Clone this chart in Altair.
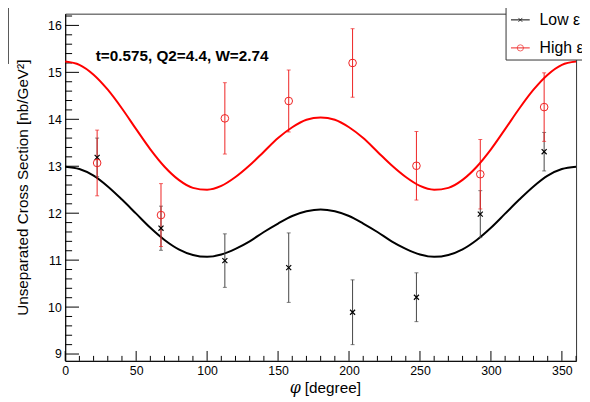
import altair as alt
import pandas as pd

# ---- data ----
phi_curve = list(range(0, 361, 10))
low_fit = [12.99, 12.94, 12.80, 12.57, 12.29, 11.99, 11.69, 11.43, 11.23, 11.11,
           11.07, 11.12, 11.24, 11.40, 11.60, 11.78, 11.94, 12.04, 12.08,
           12.04, 11.94, 11.78, 11.60, 11.40, 11.24, 11.12, 11.07, 11.11,
           11.23, 11.43, 11.69, 11.99, 12.29, 12.57, 12.80, 12.94, 12.99]
high_fit = [15.23, 15.16, 14.95, 14.63, 14.23, 13.79, 13.36, 12.99, 12.71, 12.54,
            12.50, 12.58, 12.77, 13.02, 13.31, 13.60, 13.83, 13.99, 14.04,
            13.99, 13.83, 13.60, 13.31, 13.02, 12.77, 12.58, 12.50, 12.54,
            12.71, 12.99, 13.36, 13.79, 14.23, 14.63, 14.95, 15.16, 15.23]

phi_pts = [22.5, 67.5, 112.5, 157.5, 202.5, 247.5, 292.5, 337.5]
low_val = [13.19, 11.68, 10.99, 10.84, 9.89, 10.21, 11.98, 13.31]
low_err = [0.41, 0.47, 0.57, 0.74, 0.69, 0.52, 0.50, 0.41]
high_val = [13.07, 11.96, 14.02, 14.39, 15.20, 13.01, 12.83, 14.26]
high_err = [0.70, 0.67, 0.76, 0.66, 0.73, 0.73, 0.74, 0.73]

x_major = [0, 50, 100, 150, 200, 250, 300, 350]
x_minor = [v for v in range(10, 361, 10) if v % 50]
y_major = [9, 10, 11, 12, 13, 14, 15, 16]
y_minor = [round(9 + 0.2 * i, 1) for i in range(37) if i % 5]

legend_labels = ["Low ε", "High ε"]
info_text = "t=0.575, Q2=4.4, W=2.74"
y_title = "Unseparated Cross Section [nb/GeV²]"

W, H = 518, 352
xs = alt.Scale(domain=[0, 360], nice=False, zero=False)
ys = alt.Scale(domain=[8.855, 16.25], nice=False, zero=False)
FONT = "Liberation Sans"

x_axis = alt.Axis(
    values=x_major, ticks=False, grid=False, labelFontSize=12.5, labelFont=FONT,
    labelColor="black", labelPadding=4, labelFlush=False, labelOverlap=False,
    domainColor="black", title=None, format="d")
y_axis = alt.Axis(
    values=y_major, ticks=False, grid=False, labelFontSize=12.5, labelFont=FONT,
    labelColor="black", labelPadding=4, labelFlush=False, labelOverlap=False,
    domainColor="black", format="d",
    title=y_title, titleFont=FONT, titleFontSize=15.5, titleFontWeight="normal",
    titleColor="black", titleAngle=270, titleX=-38, titleY=H / 2,
    titleAlign="center", titleBaseline="alphabetic")

df_low = pd.DataFrame({"phi": phi_curve, "val": low_fit})
df_high = pd.DataFrame({"phi": phi_curve, "val": high_fit})
pts = pd.DataFrame({
    "phi": phi_pts,
    "lv": low_val, "llo": [v - e for v, e in zip(low_val, low_err)],
    "lhi": [v + e for v, e in zip(low_val, low_err)],
    "hv": high_val, "hlo": [v - e for v, e in zip(high_val, high_err)],
    "hhi": [v + e for v, e in zip(high_val, high_err)],
})

X = lambda f: alt.X(f, type="quantitative", scale=xs, axis=x_axis)
Y = lambda f: alt.Y(f, type="quantitative", scale=ys, axis=y_axis)

low_line = alt.Chart(df_low).mark_line(color="black", strokeWidth=2, interpolate="monotone").encode(
    x=X("phi"), y=Y("val"))
high_line = alt.Chart(df_high).mark_line(color="#ff0000", strokeWidth=2, interpolate="monotone").encode(
    x=X("phi"), y=Y("val"))

# inward ticks (ROOT style)
tk_ymaj = alt.Chart(pd.DataFrame({"v": y_major})).mark_rule(color="black", strokeWidth=1).encode(
    y=Y("v"), x=alt.value(0), x2=alt.value(14))
tk_ymin = alt.Chart(pd.DataFrame({"v": y_minor})).mark_rule(color="black", strokeWidth=1).encode(
    y=Y("v"), x=alt.value(0), x2=alt.value(7))
tk_xmaj = alt.Chart(pd.DataFrame({"v": x_major})).mark_rule(color="black", strokeWidth=1).encode(
    x=X("v"), y=alt.value(H), y2=alt.value(H - 10))
tk_xmin = alt.Chart(pd.DataFrame({"v": x_minor})).mark_rule(color="black", strokeWidth=1).encode(
    x=X("v"), y=alt.value(H), y2=alt.value(H - 5))

base = alt.Chart(pts)
low_bar = base.mark_rule(color="#444444", strokeWidth=1).encode(x=X("phi"), y=Y("llo"), y2="lhi:Q")
low_cap1 = base.mark_tick(color="#444444", orient="horizontal", size=4, thickness=1).encode(x=X("phi"), y=Y("llo"))
low_cap2 = base.mark_tick(color="#444444", orient="horizontal", size=4, thickness=1).encode(x=X("phi"), y=Y("lhi"))
low_mk = base.mark_point(shape="M-1,-1L1,1M-1,1L1,-1", size=26, color="black", strokeWidth=1.2,
                         filled=False, opacity=1).encode(x=X("phi"), y=Y("lv"))

high_bar = base.mark_rule(color="#ee2222", strokeWidth=1).encode(x=X("phi"), y=Y("hlo"), y2="hhi:Q")
high_cap1 = base.mark_tick(color="#ee2222", orient="horizontal", size=4, thickness=1).encode(x=X("phi"), y=Y("hlo"))
high_cap2 = base.mark_tick(color="#ee2222", orient="horizontal", size=4, thickness=1).encode(x=X("phi"), y=Y("hhi"))
high_mk = base.mark_point(shape="circle", size=60, color="#ee2222", strokeWidth=1,
                          filled=False, opacity=1).encode(x=X("phi"), y=Y("hv"))

info = alt.Chart(pd.DataFrame({"t": [info_text]})).mark_text(
    font=FONT, fontSize=15.5, fontWeight="bold", align="left", baseline="alphabetic", color="black"
).encode(text="t:N", x=alt.value(31), y=alt.value(48))

xt_phi = alt.Chart(pd.DataFrame({"t": ["φ"]})).mark_text(
    font="DejaVu Serif", fontSize=16, fontStyle="italic", align="right", baseline="alphabetic", color="black"
).encode(text="t:N", x=alt.value(239), y=alt.value(H + 33))
xt_deg = alt.Chart(pd.DataFrame({"t": ["[degree]"]})).mark_text(
    font=FONT, fontSize=15.5, align="left", baseline="alphabetic", color="black"
).encode(text="t:N", x=alt.value(243), y=alt.value(H + 33))

# legend box (cut by the window edge, as in the reference)
leg_box = alt.Chart(pd.DataFrame({"a": [0]})).mark_rect(fill="white", stroke="#333333", strokeWidth=1).encode(
    x=alt.value(447), x2=alt.value(640), y=alt.value(-8), y2=alt.value(47))
leg_df = pd.DataFrame({"label": legend_labels})
leg_l1 = alt.Chart(leg_df.iloc[[0]]).mark_rule(color="black", strokeWidth=1).encode(
    x=alt.value(452), x2=alt.value(471), y=alt.value(6.3))
leg_l2 = alt.Chart(leg_df.iloc[[1]]).mark_rule(color="#ee2222", strokeWidth=1).encode(
    x=alt.value(452), x2=alt.value(471), y=alt.value(34.7))
leg_m1 = alt.Chart(leg_df.iloc[[0]]).mark_point(shape="M-1,-1L1,1M-1,1L1,-1", size=16, color="black",
                                                filled=False, strokeWidth=1).encode(
    x=alt.value(461.5), y=alt.value(6.3))
leg_m2 = alt.Chart(leg_df.iloc[[1]]).mark_point(shape="circle", size=40, color="#ee2222",
                                                filled=False, strokeWidth=1).encode(
    x=alt.value(461.5), y=alt.value(34.7))
leg_t1 = alt.Chart(leg_df.iloc[[0]]).mark_text(font=FONT, fontSize=16, align="left", baseline="middle",
                                               color="black").encode(
    text="label:N", x=alt.value(481), y=alt.value(6.3))
leg_t2 = alt.Chart(leg_df.iloc[[1]]).mark_text(font=FONT, fontSize=16, align="left", baseline="middle",
                                               color="black").encode(
    text="label:N", x=alt.value(481), y=alt.value(34.7))

# remnant of a box at the top-left corner
side_box = alt.Chart(pd.DataFrame({"a": [0]})).mark_rule(color="#555555", strokeWidth=1).encode(
    x=alt.value(-57.5), y=alt.value(-8), y2=alt.value(51))

chart = alt.layer(
    low_line, tk_ymaj, tk_ymin, tk_xmaj, tk_xmin,
    low_bar, low_cap1, low_cap2, high_bar, high_cap1, high_cap2,
    low_mk, high_mk, high_line,
    info, xt_phi, xt_deg,
    leg_box, leg_l1, leg_l2, leg_m1, leg_m2, leg_t1, leg_t2, side_box,
).resolve_scale(x="shared", y="shared").properties(
    width=W, height=H,
    autosize=alt.AutoSizeParams(type="none"),
    padding={"left": 58, "top": 3, "right": 6, "bottom": 40},
    background="white",
).configure_view(stroke="#333333", strokeWidth=1)

chart.save("out.html", embed_options={"renderer": "svg", "actions": False})
